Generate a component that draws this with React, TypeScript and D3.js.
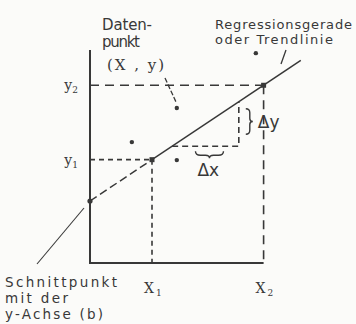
import React from "react";
import * as d3 from "d3";

// regression line y = b + m * x
const intercept = 2;
const slope = 2 / 3;
const xMarks = [2, 5.6]; // x1, x2
const xMarkLabels = ["X", "X"];
const markSubs = ["1", "2"];
const dataX = [1.35, 2.8, 2.8, 5.35];
const dataY = [3.9, 5.0, 3.32, 6.77];
const deltaX = [2.65, 4.8];

const W = 356;
const H = 324;
const ink = "#383838";
const sans = "'DejaVu Sans', sans-serif";
const serif = "'DejaVu Serif', serif";

export default function App() {
  const x = d3.scaleLinear().domain([0, 6]).range([90, 276]);
  const y = d3.scaleLinear().domain([0, 7]).range([263, 46]);
  const f = (v: number) => intercept + slope * v;
  const line = d3.line<number>().x(d => x(d)).y(d => y(f(d)));

  const [x1, x2] = xMarks;
  const [dx0, dx1] = deltaX;
  const bx = x(dx1) + 7;
  const byTop = y(f(dx1)) + 7;
  const byBot = y(f(dx0)) - 12;
  const byMid = (byTop + byBot) / 2;
  const hxMid = (x(dx0) + x(dx1)) / 2 + 4;
  const hy = y(f(dx0)) + 5;

  return (
    <svg width={W} height={H} style={{ position: "absolute", left: 0, top: 0, background: "#fbfbf9" }}>
      {/* axes */}
      <path d={`M${x(0)},${y(6.87)}V${y(0)}H${x(x2)}`} fill="none" stroke={ink} strokeWidth={2} />

      {/* guide lines for x1/y1 and x2/y2 */}
      {xMarks.map((v, i) => (
        <g key={i} stroke={ink} strokeWidth={1.6} strokeDasharray={i === 0 ? "5,4" : "9,6"} fill="none">
          <line x1={x(0)} x2={x(v)} y1={y(f(v))} y2={y(f(v))} />
          <line x1={x(v)} x2={x(v)} y1={y(f(v))} y2={y(0)} />
        </g>
      ))}

      {/* regression line: dashed up to x1, solid beyond */}
      <path d={line([0, x1]) ?? ""} fill="none" stroke={ink} strokeWidth={1.5} strokeDasharray="8,4" />
      <path d={line([x1, 6.8]) ?? ""} fill="none" stroke={ink} strokeWidth={1.5} />

      {/* delta triangle */}
      <path
        d={`M${x(dx0)},${y(f(dx0))}H${x(dx1)}V${y(f(dx1))}`}
        fill="none" stroke={ink} strokeWidth={1.6} strokeDasharray="6,4"
      />
      <path
        d={`M${bx},${byTop} q4,0 4,4 v${byMid - byTop - 7} q0,3 3,3 q-3,0 -3,3 v${byBot - byMid - 7} q0,4 -4,4`}
        fill="none" stroke={ink} strokeWidth={1.4}
      />
      <path
        d={`M${hxMid - 14},${hy} q0,4 5,4 h5 q4,0 4,3 q0,-3 4,-3 h5 q5,0 5,-4`}
        fill="none" stroke={ink} strokeWidth={1.4}
      />
      <text x={bx + 12} y={byMid + 6} fontFamily={sans} fontSize={17} fill={ink}>Δy</text>
      <text x={hxMid - 12} y={hy + 25} fontFamily={sans} fontSize={17} fill={ink}>Δx</text>

      {/* data points */}
      {dataX.map((v, i) => (
        <circle key={i} cx={x(v)} cy={y(dataY[i])} r={2.2} fill={ink} />
      ))}
      {xMarks.map((v, i) => (
        <rect key={i} x={x(v) - 2.5} y={y(f(v)) - 2.5} width={5} height={5} fill={ink} />
      ))}
      <circle cx={x(0)} cy={y(intercept)} r={2.6} fill={ink} />

      {/* tick labels */}
      {xMarks.map((v, i) => (
        <g key={i} fontFamily={serif} fill={ink}>
          <text x={x(v) - 8} y={y(0) + 30} fontSize={14}>
            {xMarkLabels[i]}
            <tspan fontSize={9} dy={3} dx={2}>{markSubs[i]}</tspan>
          </text>
          <text x={x(0) - 12} y={y(f(v)) + 5} fontSize={14} textAnchor="end">
            y<tspan fontSize={9} dy={3}>{markSubs[i]}</tspan>
          </text>
        </g>
      ))}

      {/* annotations */}
      <g fontFamily={sans} fill={ink}>
        <text x={102} y={30} fontSize={15} textLength={50}>Daten-</text>
        <text x={102} y={47} fontSize={15} textLength={38}>punkt</text>
        <text x={215} y={29} fontSize={13} textLength={137}>Regressionsgerade</text>
        <text x={215} y={44} fontSize={13} textLength={118}>oder Trendlinie</text>
        <text x={5} y={287} fontSize={13.5} textLength={112}>Schnittpunkt</text>
        <text x={5} y={303} fontSize={13.5} textLength={63}>mit der</text>
        <text x={5} y={319} fontSize={13.5} textLength={98}>y-Achse (b)</text>
      </g>
      <text x={107} y={70} fontFamily={serif} fontSize={15} fill={ink} textLength={57}>(X , y)</text>
      <line x1={165} y1={78} x2={176} y2={102} stroke={ink} strokeWidth={1.3} strokeDasharray="5,2" />
      <line x1={286} y1={50} x2={281} y2={64} stroke={ink} strokeWidth={1.3} />
      <line x1={37} y1={264} x2={84} y2={208} stroke={ink} strokeWidth={1.1} />
    </svg>
  );
}
